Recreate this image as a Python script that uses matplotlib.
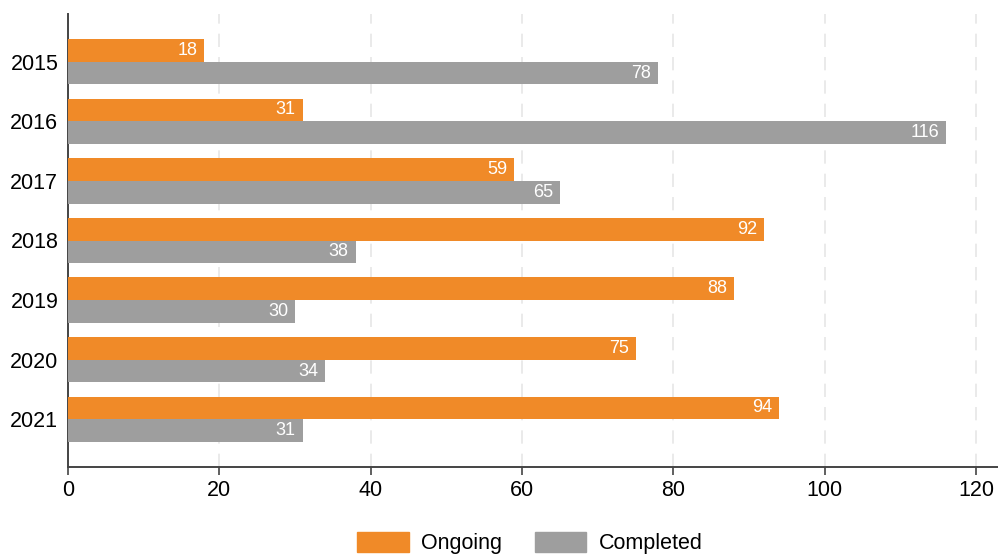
import matplotlib
matplotlib.use("Agg")
import matplotlib.pyplot as plt
import numpy as np
from matplotlib.patches import Patch

years = ["2015", "2016", "2017", "2018", "2019", "2020", "2021"]
ongoing = [18, 31, 59, 92, 88, 75, 94]
completed = [78, 116, 65, 38, 30, 34, 31]
xticks = [0, 20, 40, 60, 80, 100, 120]

plt.rcParams['font.family'] = ['Liberation Sans', 'DejaVu Sans']
orange = '#F08A28'
gray = '#9E9E9E'

fig = plt.figure(figsize=(9.98, 5.54), dpi=100)
ax = fig.add_axes([68/998, 1-467/554, 930/998, (467-14)/554])

y = np.arange(len(years))
h = 0.38
b1 = ax.barh(y - h/2, ongoing, height=h, color=orange, zorder=3)
b2 = ax.barh(y + h/2, completed, height=h, color=gray, zorder=3)
for bars in (b1, b2):
    for r in bars:
        w = r.get_width()
        ax.text(w - 0.9, r.get_y() + r.get_height()/2, f"{int(w)}", ha='right', va='center',
                color='white', fontsize=13, zorder=4)

ax.set_xlim(0, 122.9)
ax.set_ylim(6.8, -0.8)
ax.set_yticks(y)
ax.set_yticklabels(years, fontsize=15.5)
ax.set_xticks(xticks)
ax.set_xticklabels([str(t) for t in xticks], fontsize=15.5)
ax.tick_params(axis='y', length=0, pad=7)
ax.tick_params(axis='x', length=6, width=1.2, color='#444444', pad=3)
ax.xaxis.grid(True, linestyle=(0, (8, 6)), color='#E6E6E6', linewidth=1.2, zorder=0)
for s in ['top', 'right']:
    ax.spines[s].set_visible(False)
for s in ['left', 'bottom']:
    ax.spines[s].set_color('#444444')
    ax.spines[s].set_linewidth(1.4)

handles = [Patch(color=orange, label='Ongoing'), Patch(color=gray, label='Completed')]
fig.legend(handles=handles, loc='center', bbox_to_anchor=(530/998, 1-543/554), ncol=2,
           frameon=False, fontsize=15.5, handlelength=2.4, handleheight=1.1,
           columnspacing=1.5, handletextpad=0.6)

fig.savefig('out.png', dpi=100)
